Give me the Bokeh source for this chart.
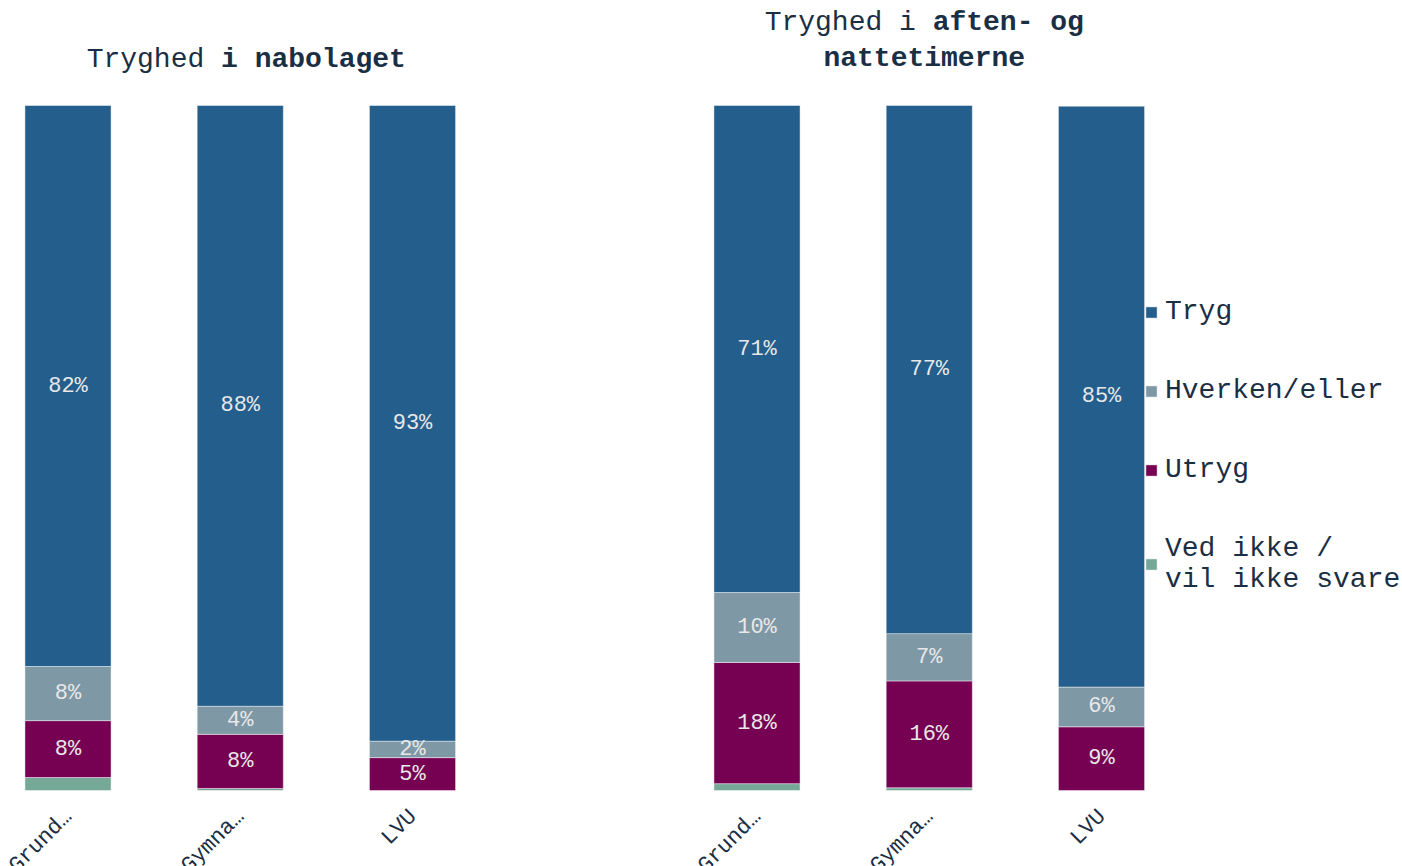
import math
from bokeh.plotting import figure
from bokeh.models import ColumnDataSource, Legend, LegendItem, Range1d
from bokeh.core.properties import value
from bokeh.embed import file_html
from bokeh.resources import INLINE

# ---------------- data ----------------
categories = ["Grund…", "Gymna…", "LVU"]
series = ["Tryg", "Hverken/eller", "Utryg", "Ved ikke /\nvil ikke svare"]
colors = ["#235E8C", "#7F98A6", "#760052", "#76A898"]

# Panel 1: Tryghed i nabolaget
nabolag_tryg = [81.9, 87.7, 92.8]
nabolag_hverken = [7.9, 4.1, 2.4]
nabolag_utryg = [8.3, 7.9, 4.8]
nabolag_vedikke = [1.9, 0.3, 0.0]

# Panel 2: Tryghed i aften- og nattetimerne
aften_tryg = [71.1, 77.1, 84.8]
aften_hverken = [10.2, 6.9, 5.8]
aften_utryg = [17.7, 15.6, 9.3]
aften_vedikke = [1.0, 0.4, 0.0]

# ---------------- layout constants ----------------
FONT = "Liberation Mono"
TXT = "#1a2e44"
W, H = 1402, 866
UNIT = 172.25            # px per category slot
PX_PER_PCT = 6.85        # px per percentage point
ZERO_FROM_TOP = 790      # px from frame top to 0 %
LEFT_PAD = 67.5          # px from frame left to first bar centre

x_start = -LEFT_PAD / UNIT
y_start = -(H - ZERO_FROM_TOP) / PX_PER_PCT
y_end = ZERO_FROM_TOP / PX_PER_PCT

p = figure(width=W, height=H,
           x_range=Range1d(x_start, x_start + W / UNIT),
           y_range=Range1d(y_start, y_end),
           x_axis_type=None, y_axis_type=None,
           output_backend="svg", toolbar_location=None,
           min_border=0, min_border_left=0, min_border_right=0,
           min_border_top=0, min_border_bottom=0)
p.grid.visible = False
p.outline_line_color = None
p.background_fill_color = "white"
p.border_fill_color = "white"

panels = [
    (0, [nabolag_tryg, nabolag_hverken, nabolag_utryg, nabolag_vedikke]),
    (4, [aften_tryg, aften_hverken, aften_utryg, aften_vedikke]),
]

keys = ["s0", "s1", "s2", "s3"]          # same order as series
stack_order = [3, 2, 1, 0]               # bottom -> top
data = {"x": [], "cat": []}
for k in keys:
    data[k] = []
lab = {"x": [], "y": [], "text": []}
for offset, vals in panels:
    for i, c in enumerate(categories):
        data["x"].append(offset + i)
        data["cat"].append(c)
        for k, arr in zip(keys, vals):
            data[k].append(arr[i])
        bottom = 0.0
        for j in stack_order:
            v = vals[j][i]
            if v >= 2:
                lab["x"].append(offset + i)
                lab["y"].append(bottom + v / 2)
                lab["text"].append(f"{round(v)}%")
            bottom += v

src = ColumnDataSource(data)
stack_keys = [keys[j] for j in stack_order]
stack_colors = [colors[j] for j in stack_order]
stack_renderers = p.vbar_stack(stack_keys, x="x", width=0.5, color=stack_colors,
                               source=src, line_color="white", line_width=1,
                               line_alpha=0.45)
renderers = [None] * 4
for j, r in zip(stack_order, stack_renderers):
    renderers[j] = r

p.text(x="x", y="y", text="text", source=ColumnDataSource(lab),
       text_font=value(FONT), text_font_size="22px", text_color="#E8E8E8",
       text_align="center", text_baseline="middle")

# category labels (rotated), under each bar
cat_src = ColumnDataSource(dict(x=data["x"], text=data["cat"], y=[0] * len(data["x"])))
p.text(x="x", y="y", text="text", source=cat_src, angle=math.pi / 4,
       text_font=value(FONT), text_font_size="22px", text_color=TXT,
       text_align="right", text_baseline="middle", x_offset=1, y_offset=23)

# titles
FS = 28
ADV = 0.6 * FS
def title_part(x, txt, align, style, xoff, yoff):
    p.text(x=[x], y=[100], text=[txt], text_font=value(FONT),
           text_font_size=f"{FS}px", text_font_style=style, text_color=TXT,
           text_align=align, text_baseline="middle", x_offset=xoff, y_offset=yoff)

c1 = 1  # centre bar of panel 1
title_part(c1, "Tryghed", "right", "normal", 6 - 2.5 * ADV, -46)
title_part(c1, "i nabolaget", "left", "bold", 6 - 1.5 * ADV, -46)

c2 = 5  # centre bar of panel 2
title_part(c2, "Tryghed i", "right", "normal", -5 - 0.5 * ADV, -83)
title_part(c2, "aften- og", "left", "bold", -5 + 0.5 * ADV, -83)
title_part(c2, "nattetimerne", "center", "bold", -5, -47)

# legend
items = [LegendItem(label=s, renderers=[r]) for s, r in zip(series, renderers)]
legend = Legend(items=items, location=(1144, 271), orientation="vertical",
                padding=0, margin=0, spacing=48,
                glyph_width=14, glyph_height=14, label_standoff=7,
                label_text_font=FONT, label_text_font_size="28px",
                label_text_color=TXT, background_fill_alpha=0,
                border_line_color=None)
p.add_layout(legend)

open("out.html", "w").write(file_html(p, INLINE))
